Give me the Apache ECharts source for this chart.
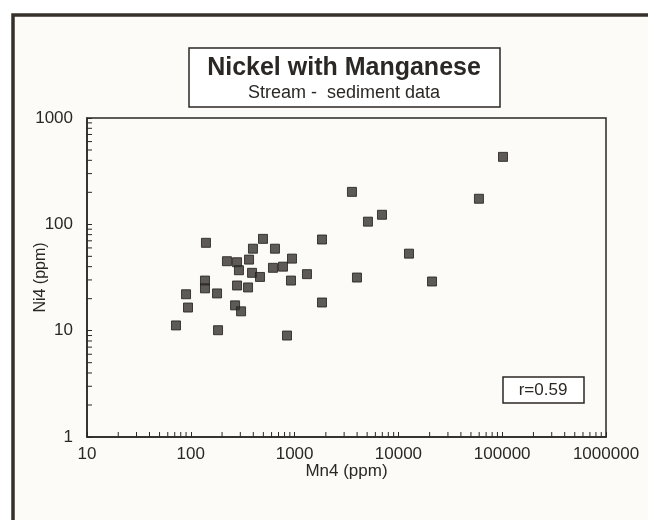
<!DOCTYPE html>
<html>
<head>
<meta charset="utf-8">
<script src="https://cdn.jsdelivr.net/npm/echarts@6/dist/echarts.min.js"></script>
<style>
  html, body { margin: 0; padding: 0; background: #ffffff; }
  #chart { width: 648px; height: 520px; }
</style>
</head>
<body>
<div id="chart"></div>
<script>
// Mn4 (ppm) and Ni4 (ppm)
var mnValues = [72, 90, 94, 140, 137, 137, 179, 183, 223, 279, 291, 279, 267, 305,
  397, 496, 647, 364, 389, 464, 356, 619, 773, 944, 923, 845, 1316, 1837, 1837,
  3570, 3990, 5090, 6950, 12650, 21080, 59700, 101800];
var niValues = [11.2, 22, 16.5, 67, 29.6, 25, 22.4, 10.1, 45, 44, 37, 26.6, 17.3, 15.2,
  59, 73, 59, 46.6, 35, 32, 25.5, 39, 40, 47.6, 29.6, 9.0, 34, 72, 18.4,
  202, 31.6, 106, 123, 53, 29, 174, 431];

var xDecades = [10, 100, 1000, 10000, 100000];
var yDecades = [1, 10, 100];
var minorSteps = [2, 3, 4, 5, 6, 7, 8, 9];

var titleText = 'Nickel with Manganese';
var subtitleText = 'Stream -  sediment data';
var rText = 'r=0.59';

var ink = '#2b2724';
var font = '"Liberation Sans", Arial, Helvetica, sans-serif';

var points = [];
for (var i = 0; i < mnValues.length; i++) {
  points.push([mnValues[i], niValues[i]]);
}

var chart = echarts.init(document.getElementById('chart'));

var option = {
  backgroundColor: '#ffffff',
  animation: false,
  grid: {
    left: 87,
    top: 118,
    width: 519,
    height: 319,
    show: true,
    borderColor: ink,
    borderWidth: 1.5,
    backgroundColor: 'transparent'
  },
  xAxis: {
    type: 'log',
    logBase: 10,
    min: 10,
    max: 1000000,
    name: 'Mn4 (ppm)',
    nameLocation: 'middle',
    nameGap: 26,
    nameMoveOverlap: false,
    nameTextStyle: { color: ink, fontSize: 17, fontFamily: font },
    axisLine: { show: true, lineStyle: { color: ink, width: 1.5 } },
    axisTick: { show: true, inside: true, length: 5, lineStyle: { color: ink } },
    splitLine: { show: false },
    axisLabel: {
      color: ink, fontSize: 17, fontFamily: font, margin: 9,
      formatter: function (v) { return String(Math.round(v)); }
    }
  },
  yAxis: {
    type: 'log',
    logBase: 10,
    min: 1,
    max: 1000,
    name: 'Ni4 (ppm)',
    nameLocation: 'middle',
    nameGap: 38,
    nameMoveOverlap: false,
    nameTextStyle: { color: ink, fontSize: 16, fontFamily: font },
    axisLine: { show: true, lineStyle: { color: ink, width: 1.5 } },
    axisTick: { show: true, inside: true, length: 5, lineStyle: { color: ink } },
    splitLine: { show: false },
    axisLabel: {
      color: ink, fontSize: 17, fontFamily: font, margin: 14,
      formatter: function (v) { return String(Math.round(v)); }
    }
  },
  series: [{
    type: 'scatter',
    data: points,
    symbol: 'rect',
    symbolSize: 9,
    itemStyle: { color: '#34322e', borderColor: '#1f1d1a', borderWidth: 1 }
  }]
};

chart.setOption(option);

// minor log ticks (2..9 in each decade) placed through the axis scales
var tickLines = [];
xDecades.forEach(function (d) {
  minorSteps.forEach(function (m) {
    var px = chart.convertToPixel({ xAxisIndex: 0 }, d * m);
    tickLines.push({
      type: 'line', silent: true,
      shape: { x1: px, y1: 437, x2: px, y2: 432 },
      style: { stroke: ink, lineWidth: 1 }
    });
  });
});
yDecades.forEach(function (d) {
  minorSteps.forEach(function (m) {
    var py = chart.convertToPixel({ yAxisIndex: 0 }, d * m);
    tickLines.push({
      type: 'line', silent: true,
      shape: { x1: 87, y1: py, x2: 92, y2: py },
      style: { stroke: ink, lineWidth: 1 }
    });
  });
});

var decor = [
  {
    type: 'rect', silent: true, z: -10,
    shape: { x: 13, y: 15, width: 700, height: 600 },
    style: { fill: '#fcfbf8', stroke: '#36302b', lineWidth: 3.5 }
  },
  {
    type: 'rect', silent: true,
    shape: { x: 189, y: 48, width: 311, height: 59 },
    style: { fill: '#ffffff', stroke: ink, lineWidth: 1.5 }
  },
  {
    type: 'text', silent: true,
    style: {
      text: titleText, x: 344, y: 68, align: 'center', verticalAlign: 'middle',
      fill: ink, font: 'bold 25px ' + font
    }
  },
  {
    type: 'text', silent: true,
    style: {
      text: subtitleText, x: 344, y: 93, align: 'center', verticalAlign: 'middle',
      fill: ink, font: '18px ' + font
    }
  },
  {
    type: 'rect', silent: true,
    shape: { x: 503, y: 377, width: 81, height: 26 },
    style: { fill: '#ffffff', stroke: ink, lineWidth: 1.5 }
  },
  {
    type: 'text', silent: true,
    style: {
      text: rText, x: 543, y: 390, align: 'center', verticalAlign: 'middle',
      fill: ink, font: '17px ' + font
    }
  }
];

chart.setOption({ graphic: decor.concat(tickLines) });
</script>
</body>
</html>
